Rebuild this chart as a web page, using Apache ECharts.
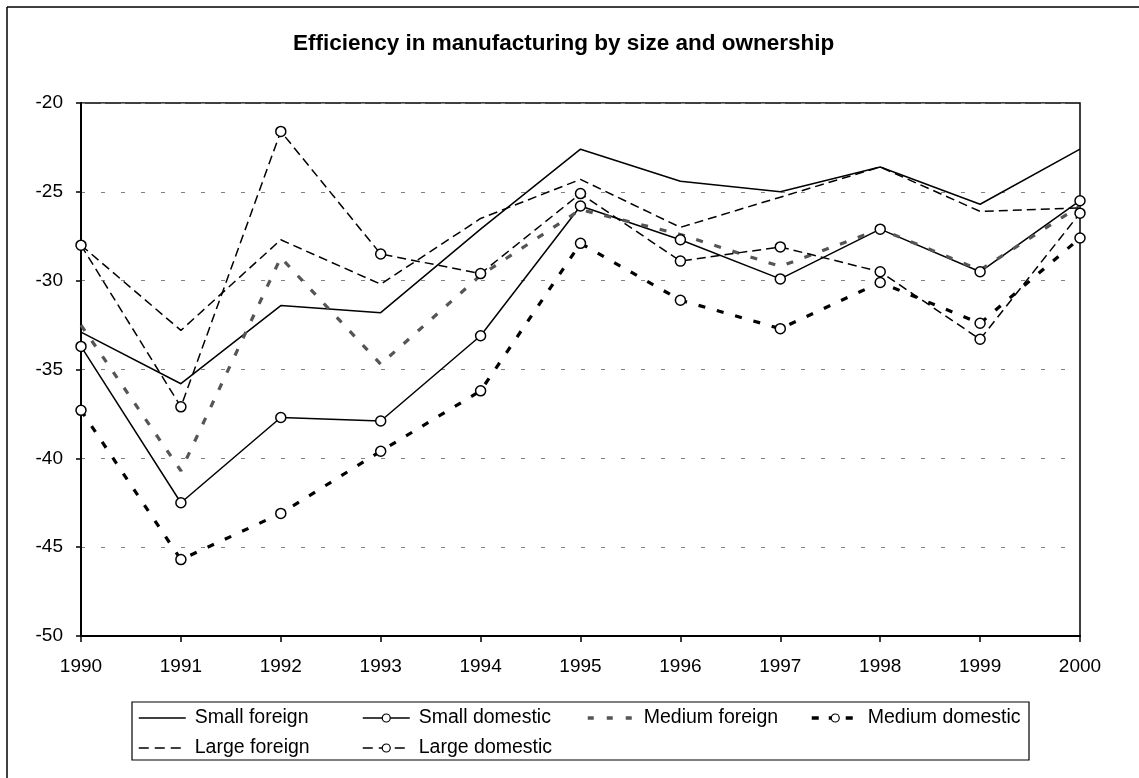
<!DOCTYPE html>
<html>
<head>
<meta charset="utf-8">
<style>
  html, body { margin: 0; padding: 0; background: #fff; }
  #chart { width: 1139px; height: 778px; }
</style>
<script src="https://cdn.jsdelivr.net/npm/echarts@6/dist/echarts.min.js"></script>
</head>
<body>
<div id="chart"></div>
<script>
// Efficiency scores by firm size and ownership, 1990-2000
const years = ['1990', '1991', '1992', '1993', '1994', '1995', '1996', '1997', '1998', '1999', '2000'];
const smallForeign   = [-32.9, -35.8, -31.4, -31.8, -27.1, -22.6, -24.4, -25.0, -23.6, -25.7, -22.6];
const smallDomestic  = [-33.7, -42.5, -37.7, -37.9, -33.1, -25.8, -27.7, -29.9, -27.1, -29.5, -25.5];
const mediumForeign  = [-32.5, -40.7, -28.7, -34.7, -29.7, -26.0, -27.4, -29.2, -27.1, -29.4, -25.8];
const mediumDomestic = [-37.3, -45.7, -43.1, -39.6, -36.2, -27.9, -31.1, -32.7, -30.1, -32.4, -27.6];
const largeForeign   = [-28.0, -32.8, -27.7, -30.2, -26.5, -24.3, -27.0, -25.3, -23.6, -26.1, -25.9];
const largeDomestic  = [-28.0, -37.1, -21.6, -28.5, -29.6, -25.1, -28.9, -28.1, -29.5, -33.3, -26.2];

const FONT = '"Liberation Sans", Arial, sans-serif';

const chart = echarts.init(document.getElementById('chart'), null, { renderer: 'canvas' });

function lineSeries(name, data, opts) {
  return Object.assign({
    name: name,
    type: 'line',
    data: data,
    symbol: 'none',
    symbolSize: 10,
    showSymbol: true,
    animation: false,
    color: '#000',
    itemStyle: { color: '#fff', borderColor: '#000', borderWidth: 1.5 },
    emphasis: { disabled: true }
  }, opts);
}

// legend entry for a series drawn without markers: keep only the line sample
function plainEntry(name, lineStyle) {
  return {
    name: name,
    itemStyle: { color: 'transparent', borderColor: 'transparent', borderWidth: 0 },
    lineStyle: lineStyle
  };
}

function markedEntry(name, lineStyle) {
  return {
    name: name,
    itemStyle: { color: '#fff', borderColor: '#000', borderWidth: 1.2 },
    lineStyle: lineStyle
  };
}

function legendColumn(entries, left) {
  return {
    data: entries,
    orient: 'vertical',
    left: left,
    top: 703,
    padding: 5,
    itemWidth: 47,
    itemHeight: 10,
    itemGap: 10,
    selectedMode: false,
    textStyle: { fontFamily: FONT, fontSize: 19.5, color: '#000', lineHeight: 20, padding: [0, 0, 0, 4] }
  };
}

const option = {
  backgroundColor: '#fff',
  animation: false,
  title: {
    text: 'Efficiency in manufacturing by size and ownership',
    left: 288,
    top: 27,
    textStyle: { fontFamily: FONT, fontSize: 22.5, fontWeight: 'bold', color: '#000' }
  },
  grid: {
    left: 81, right: 59, top: 103, bottom: 142,
    show: true, borderColor: '#000', borderWidth: 1.5, backgroundColor: 'transparent'
  },
  legend: [
    legendColumn([
      plainEntry('Small foreign', { color: '#000', width: 1.5, type: 'solid' }),
      plainEntry('Large foreign', { color: '#000', width: 1.5, type: [10, 6] })
    ], 133),
    legendColumn([
      markedEntry('Small domestic', { color: '#000', width: 1.5, type: 'solid' }),
      markedEntry('Large domestic', { color: '#000', width: 1.5, type: [10, 6] })
    ], 357),
    legendColumn([
      plainEntry('Medium foreign', { color: '#555', width: 3.5, type: [6, 13] })
    ], 581),
    legendColumn([
      markedEntry('Medium domestic', { color: '#000', width: 3.5, type: [7, 10] })
    ], 805)
  ],
  xAxis: {
    type: 'category',
    data: years,
    boundaryGap: false,
    axisLine: { lineStyle: { color: '#000', width: 2 } },
    axisTick: { show: true, length: 6, lineStyle: { color: '#000', width: 1.5 }, alignWithLabel: true },
    axisLabel: { fontFamily: FONT, fontSize: 19, color: '#000', margin: 21 },
    splitLine: { show: false }
  },
  yAxis: {
    type: 'value',
    min: -50, max: -20, interval: 5,
    axisLine: { show: true, lineStyle: { color: '#000', width: 2 } },
    axisTick: { show: true, length: 5, lineStyle: { color: '#000', width: 1.5 } },
    axisLabel: { fontFamily: FONT, fontSize: 19, color: '#000', margin: 18 },
    splitLine: { show: true, lineStyle: { color: '#808080', width: 1, type: [4, 16] } }
  },
  graphic: [
    // outer frame
    { type: 'line', shape: { x1: 7, y1: 7, x2: 1139, y2: 7 }, style: { stroke: '#000', lineWidth: 1.5 }, silent: true },
    { type: 'line', shape: { x1: 7, y1: 7, x2: 7, y2: 778 }, style: { stroke: '#000', lineWidth: 1.5 }, silent: true },
    // legend box
    { type: 'rect', shape: { x: 132, y: 702, width: 897, height: 58 }, style: { fill: 'none', stroke: '#000', lineWidth: 1.2 }, silent: true, z: -1 }
  ],
  series: [
    lineSeries('Small foreign', smallForeign, {
      lineStyle: { color: '#000', width: 1.5, type: 'solid' }
    }),
    lineSeries('Small domestic', smallDomestic, {
      symbol: 'circle',
      lineStyle: { color: '#000', width: 1.5, type: 'solid' }
    }),
    lineSeries('Medium foreign', mediumForeign, {
      color: '#555',
      lineStyle: { color: '#555', width: 3.2, type: [7, 12] }
    }),
    lineSeries('Medium domestic', mediumDomestic, {
      symbol: 'circle',
      lineStyle: { color: '#000', width: 3.2, type: [7, 12] }
    }),
    lineSeries('Large foreign', largeForeign, {
      lineStyle: { color: '#000', width: 1.5, type: [9, 5] }
    }),
    lineSeries('Large domestic', largeDomestic, {
      symbol: 'circle',
      lineStyle: { color: '#000', width: 1.5, type: [9, 5] }
    })
  ]
};

chart.setOption(option);
</script>
</body>
</html>
